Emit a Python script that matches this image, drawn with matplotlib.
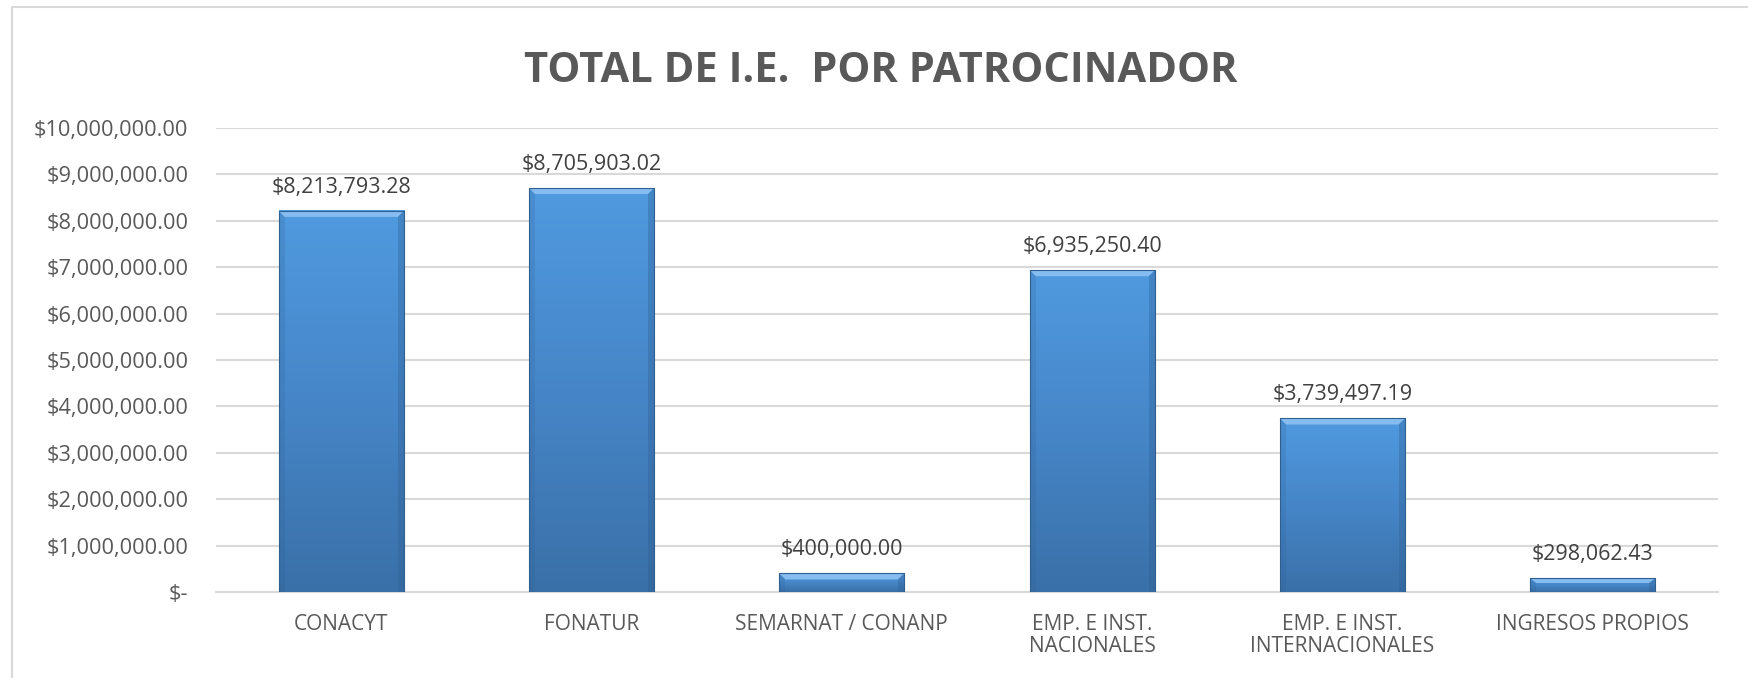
import numpy as np
import matplotlib.pyplot as plt
from matplotlib.patches import Rectangle, Polygon
from matplotlib.colors import LinearSegmentedColormap

categorias = ['CONACYT', 'FONATUR', 'SEMARNAT / CONANP',
              'EMP. E INST.\nNACIONALES', 'EMP. E INST.\nINTERNACIONALES',
              'INGRESOS PROPIOS']
montos = [8213793.28, 8705903.02, 400000.00, 6935250.40, 3739497.19, 298062.43]
ticks_y = [0, 1e6, 2e6, 3e6, 4e6, 5e6, 6e6, 7e6, 8e6, 9e6, 10e6]

plt.rcParams['font.family'] = ['Open Sans', 'DejaVu Sans']

def fmt_money(v):
    # formato contable estilo Excel
    if v == 0:
        return '$-'
    return '${:,.2f}'.format(v)

fig = plt.figure(figsize=(17.49, 6.78), dpi=100)
# borde del area del grafico
fig.patches.append(Rectangle((12 / 1749, -0.1), 1.2, 1 - 7 / 678 + 0.1,
                             transform=fig.transFigure, fill=False,
                             edgecolor='#D9D9D9', linewidth=1.5))

ax = fig.add_axes([216 / 1749, 1 - 592 / 678, (1718 - 216) / 1749, (592 - 128) / 678])
x = np.arange(len(categorias))
ancho = 0.5
px_y = 10e6 / 464     # un pixel en unidades de datos (eje y)
px_x = 1 / 250.0      # un pixel en unidades de categoria

# degradado azul para las barras
cmap = LinearSegmentedColormap.from_list('azul', ['#3A70A8', '#4686C8', '#509ADF'])
grad = np.linspace(0, 1, 256).reshape(-1, 1)
for xi, v in zip(x, montos):
    x0, x1 = xi - ancho / 2, xi + ancho / 2
    ax.imshow(grad, cmap=cmap, aspect='auto', origin='lower',
              extent=(x0, x1, 0, v), zorder=3)
    # bisel: franja clara arriba, lados mas oscuros
    b = min(6 * px_y, v * 0.35)
    bx = 6 * px_x
    ax.add_patch(Polygon([(x0, v), (x1, v), (x1 - bx, v - b), (x0 + bx, v - b)],
                         closed=True, facecolor='#86BDF0', edgecolor='none', zorder=4))
    ax.add_patch(Polygon([(x1, v), (x1, 0), (x1 - bx, 0), (x1 - bx, v - b)],
                         closed=True, facecolor='#2E5F92', edgecolor='none', alpha=0.35, zorder=4))
    ax.add_patch(Polygon([(x0, v), (x0, 0), (x0 + bx, 0), (x0 + bx, v - b)],
                         closed=True, facecolor='#2E5F92', edgecolor='none', alpha=0.2, zorder=4))
    ax.add_patch(Rectangle((x0, 0), ancho, v, fill=False,
                           edgecolor='#2F5F8F', linewidth=0.8, zorder=5))
    ax.text(xi, v + 18 * px_y, fmt_money(v), ha='center', va='baseline',
            fontsize=15.5, color='#404040')

ax.set_xlim(-0.5, len(categorias) - 0.5)
ax.set_ylim(0, 10e6)
ax.set_yticks(ticks_y)
ax.set_yticklabels([fmt_money(t) for t in ticks_y])
ax.set_xticks(x)
ax.set_xticklabels(categorias, linespacing=1.05)
ax.tick_params(axis='both', length=0, colors='#595959', labelsize=15)
ax.tick_params(axis='y', pad=20, labelsize=15.7)
ax.tick_params(axis='x', pad=16)
ax.grid(axis='y', color='#D9D9D9', linewidth=1.5, zorder=0)
ax.set_axisbelow(True)
for s in ['top', 'right', 'left']:
    ax.spines[s].set_visible(False)
ax.spines['bottom'].set_color('#D9D9D9')
ax.spines['bottom'].set_linewidth(1.5)

fig.text(881 / 1749, 1 - 71 / 678, 'TOTAL DE I.E.  POR PATROCINADOR', ha='center',
         va='center', fontsize=30, fontweight='bold', color='#595959')

fig.savefig('out.png', dpi=100)
